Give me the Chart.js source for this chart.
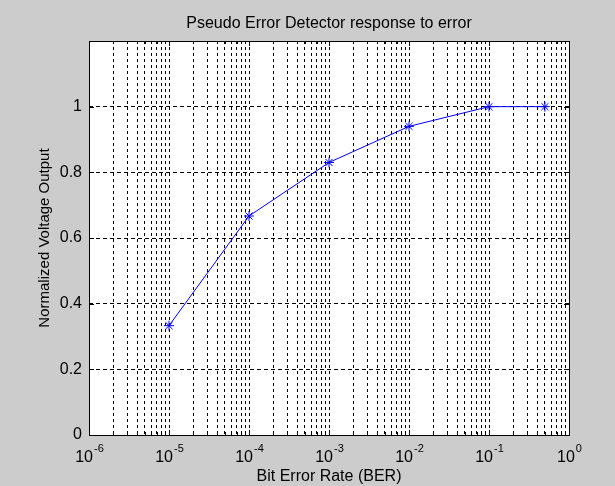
<!DOCTYPE html>
<html lang="en">
<head>
    <meta charset="UTF-8">
    <title>Pseudo Error Detector response to error</title>
    <script src="https://cdn.jsdelivr.net/npm/chart.js"></script>
    <style>
        body {
            margin: 0;
            background: #cccccc;
        }
        #wrap {
            width: 615px;
            height: 486px;
        }
    </style>
</head>
<body>
    <div id="wrap"><canvas id="ped-chart"></canvas></div>

    <script>
        // values
        const berValues = [1e-5, 1e-4, 1e-3, 1e-2, 1e-1, 0.5];
        const voltageOutput = [0.333, 0.667, 0.83, 0.94, 1.0, 1.0];
        const decadeExponents = [-6, -5, -4, -3, -2, -1, 0];
        const yTickValues = [0, 0.2, 0.4, 0.6, 0.8, 1];
        const chartTitle = 'Pseudo Error Detector response to error';

        const fontFamily = '"Liberation Sans", Arial, Helvetica, sans-serif';

        // major + minor log positions (1..9 per decade)
        const xGridValues = [];
        for (let e = decadeExponents[0]; e < decadeExponents[decadeExponents.length - 1]; e++) {
            for (let m = 1; m <= 9; m++) {
                xGridValues.push(parseFloat((m * Math.pow(10, e)).toPrecision(12)));
            }
        }
        xGridValues.push(Math.pow(10, decadeExponents[decadeExponents.length - 1]));

        const matlabAxes = {
            id: 'matlabAxes',
            beforeDraw(chart) {
                const { ctx, chartArea: a } = chart;
                ctx.save();
                ctx.fillStyle = '#ffffff';
                ctx.fillRect(a.left, a.top, a.right - a.left, a.bottom - a.top);
                ctx.restore();
            },
            afterDraw(chart) {
                const { ctx, chartArea: a } = chart;
                const x = chart.scales.x;
                const y = chart.scales.y;
                ctx.save();
                ctx.strokeStyle = '#000000';
                ctx.lineWidth = 1;

                // inward ticks
                ctx.beginPath();
                xGridValues.forEach(v => {
                    const px = Math.round(x.getPixelForValue(v)) + 0.5;
                    const lg = Math.log10(v);
                    const len = Math.abs(lg - Math.round(lg)) < 1e-9 ? 5 : 3;
                    ctx.moveTo(px, a.bottom); ctx.lineTo(px, a.bottom - len);
                    ctx.moveTo(px, a.top); ctx.lineTo(px, a.top + len);
                });
                yTickValues.forEach(v => {
                    const py = Math.round(y.getPixelForValue(v)) + 0.5;
                    ctx.moveTo(a.left, py); ctx.lineTo(a.left + 5, py);
                    ctx.moveTo(a.right, py); ctx.lineTo(a.right - 5, py);
                });
                ctx.stroke();

                // box
                ctx.strokeRect(Math.round(a.left) + 0.5, Math.round(a.top) + 0.5,
                    Math.round(a.right - a.left), Math.round(a.bottom - a.top));

                ctx.fillStyle = '#000000';

                // title, centred over the axes
                ctx.font = '16px ' + fontFamily;
                ctx.textAlign = 'center';
                ctx.textBaseline = 'alphabetic';
                ctx.fillText(chartTitle, (a.left + a.right) / 2, 28);

                // x tick labels as 10^n
                ctx.textBaseline = 'middle';
                ctx.textAlign = 'left';
                decadeExponents.forEach(e => {
                    const px = x.getPixelForValue(Math.pow(10, e));
                    ctx.font = '16px ' + fontFamily;
                    const baseW = ctx.measureText('10').width;
                    ctx.font = '11px ' + fontFamily;
                    const expW = ctx.measureText(String(e)).width;
                    const start = px - (baseW + expW) / 2;
                    ctx.font = '16px ' + fontFamily;
                    ctx.fillText('10', start, a.bottom + 23);
                    ctx.font = '11px ' + fontFamily;
                    ctx.fillText(String(e), start + baseW + 1, a.bottom + 14);
                });
                ctx.restore();
            }
        };

        const ctx = document.getElementById('ped-chart').getContext('2d');
        const chart = new Chart(ctx, {
            type: 'line',
            data: {
                datasets: [{
                    label: 'Pseudo error detector',
                    data: berValues.map((b, i) => ({ x: b, y: voltageOutput[i] })),
                    borderColor: '#0000ff',
                    backgroundColor: '#0000ff',
                    borderWidth: 1,
                    pointStyle: 'star',
                    pointRadius: 5,
                    pointBorderWidth: 1,
                    pointBorderColor: '#0000ff',
                    tension: 0
                }]
            },
            options: {
                responsive: true,
                maintainAspectRatio: false,
                animation: false,
                layout: { padding: { left: 0, right: 46, top: 41, bottom: 0 } },
                plugins: {
                    legend: { display: false },
                    tooltip: { enabled: false },
                    title: { display: false }
                },
                scales: {
                    x: {
                        type: 'logarithmic',
                        min: Math.pow(10, decadeExponents[0]),
                        max: Math.pow(10, decadeExponents[decadeExponents.length - 1]),
                        afterBuildTicks(scale) {
                            scale.ticks = xGridValues.map(v => ({ value: v }));
                        },
                        afterFit(scale) { scale.height = 51; },
                        ticks: { display: false },
                        grid: { color: '#000000', lineWidth: 1, drawTicks: false },
                        border: { display: false, dash: [3, 3] },
                        title: {
                            display: true,
                            text: 'Bit Error Rate (BER)',
                            color: '#000000',
                            font: { family: fontFamily, size: 16 },
                            padding: { top: 0, bottom: 0 }
                        }
                    },
                    y: {
                        min: 0,
                        max: 1.2,
                        afterBuildTicks(scale) {
                            scale.ticks = yTickValues.concat([1.2]).map(v => ({ value: v }));
                        },
                        afterFit(scale) { scale.width = 89; },
                        ticks: {
                            color: '#000000',
                            font: { family: fontFamily, size: 16 },
                            padding: 7,
                            callback: v => (v > 1.05 ? '' : String(Math.round(v * 10) / 10))
                        },
                        grid: { color: '#000000', lineWidth: 1, drawTicks: false },
                        border: { display: false, dash: [4, 3] },
                        title: {
                            display: true,
                            text: 'Normalized Voltage Output',
                            color: '#000000',
                            font: { family: fontFamily, size: 15 },
                            padding: { top: 36, bottom: 0 }
                        }
                    }
                }
            },
            plugins: [matlabAxes]
        });
    </script>
</body>
</html>
